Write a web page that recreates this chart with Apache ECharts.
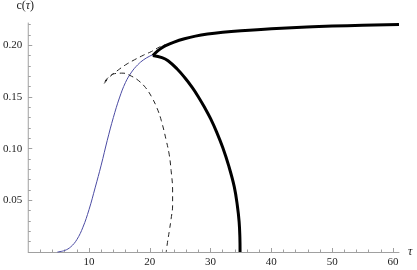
<!DOCTYPE html>
<html>
<head>
<meta charset="utf-8">
<script src="https://cdn.jsdelivr.net/npm/echarts@6/dist/echarts.min.js"></script>
<style>html,body{margin:0;padding:0;background:#fff}#c{width:417px;height:270px}</style>
</head>
<body>
<div id="c"></div>
<script>
// ---- data (tau, c) ----
const blueCurve = [[4.8,0],[6,0.0015],[7,0.005],[8,0.012],[9,0.024],[10,0.041],[11,0.062],[12,0.084],[13,0.108],[14,0.130],[15,0.149],[16,0.164],[17,0.174],[18,0.181],[19,0.186],[20,0.1895],[20.6,0.191]];
const dashedUpper = [[12.5,0.163],[13.5,0.170],[14.8,0.176],[16,0.181],[17.5,0.186],[19,0.1905],[20.3,0.194],[21.5,0.198],[22.5,0.2005]];
const dashedArc = [[12.6,0.165],[13.2,0.169],[14.2,0.1725],[15.6,0.173],[17,0.170],[18.1,0.166],[19.3,0.159],[20.3,0.150],[21.2,0.139],[21.9,0.127],[22.7,0.108],[23.2,0.094],[23.5,0.079],[23.75,0.060],[23.75,0.045],[23.5,0.032],[23.2,0.020],[22.9,0.009],[22.7,0]];
const thickUpper = [[20.5,0.190],[21.3,0.1945],[22.0,0.1975],[22.7,0.1998],[24,0.203],[25.7,0.2062],[27.5,0.2088],[29.5,0.2108],[32,0.2125],[35,0.214],[40,0.216],[45,0.2175],[50,0.2185],[55,0.2193],[61,0.220]];
const thickLower = [[20.5,0.190],[22,0.188],[23,0.185],[24.5,0.177],[25.7,0.169],[27,0.159],[28,0.150],[29,0.140],[30,0.129],[31,0.116],[32,0.101],[33,0.083],[33.9,0.063],[34.4,0.045],[34.7,0.029],[34.82,0.014],[34.85,0]];
const xMajorTicks = [10,20,30,40,50,60];
const xMinorTicks = [2,4,6,8,12,14,16,18,22,24,26,28,32,34,36,38,42,44,46,48,52,54,56,58];
const yMajorTicks = [0.05,0.10,0.15,0.20];
const yMinorTicks = [0.01,0.02,0.03,0.04,0.06,0.07,0.08,0.09,0.11,0.12,0.13,0.14,0.16,0.17,0.18,0.19,0.21,0.22];
const xMin = 0, xMax = 61, yMin = 0, yMax = 0.2215;

const serif = '"Liberation Serif", "Times New Roman", serif';
const axisColor = '#a0a0a0';
const labelStyle = {fontFamily: serif, fontSize: 11, color: '#222'};

function lineSeries(data, style, smooth) {
  return {type: 'line', data: data, showSymbol: false, symbol: 'none', smooth: smooth, clip: false, lineStyle: style};
}

const chart = echarts.init(document.getElementById('c'), null, {renderer: 'canvas'});
chart.setOption({
  animation: false,
  grid: {left: 26, right: 18, top: 23, bottom: 18, containLabel: false},
  xAxis: [
    {type: 'value', min: xMin, max: xMax, position: 'bottom',
     axisLine: {show: true, onZero: false, lineStyle: {color: axisColor, width: 1}},
     axisTick: {show: true, inside: true, length: 4, customValues: xMajorTicks, lineStyle: {color: axisColor}},
     axisLabel: Object.assign({show: true, margin: 5, customValues: xMajorTicks, formatter: v => String(v)}, labelStyle),
     splitLine: {show: false},
     name: 'τ', nameLocation: 'end', nameGap: 9,
     nameTextStyle: {fontFamily: serif, fontSize: 12, fontStyle: 'italic', color: '#222'}},
    {type: 'value', min: xMin, max: xMax, position: 'bottom',
     axisLine: {show: false}, axisLabel: {show: false}, splitLine: {show: false},
     axisTick: {show: true, inside: true, length: 2.5, customValues: xMinorTicks, lineStyle: {color: axisColor}}}
  ],
  yAxis: [
    {type: 'value', min: yMin, max: yMax, position: 'left',
     axisLine: {show: true, onZero: false, lineStyle: {color: axisColor, width: 1}},
     axisTick: {show: true, inside: true, length: 4, customValues: yMajorTicks, lineStyle: {color: axisColor}},
     axisLabel: Object.assign({show: true, margin: 6, customValues: yMajorTicks, formatter: v => v.toFixed(2)}, labelStyle),
     splitLine: {show: false},
     name: 'c({i|τ})', nameLocation: 'end', nameGap: 11,
     nameTextStyle: {fontFamily: serif, fontSize: 12, color: '#222', align: 'center', padding: [0, 6, 0, 0],
       rich: {i: {fontFamily: serif, fontSize: 12, fontStyle: 'italic', color: '#222'}}}},
    {type: 'value', min: yMin, max: yMax, position: 'left',
     axisLine: {show: false}, axisLabel: {show: false}, splitLine: {show: false},
     axisTick: {show: true, inside: true, length: 2.5, customValues: yMinorTicks, lineStyle: {color: axisColor}}}
  ],
  series: [
    lineSeries(blueCurve, {color: '#4b4ba3', width: 1}, 0.4),
    lineSeries(dashedUpper, {color: '#222', width: 1, type: [5, 4]}, 0.4),
    lineSeries(dashedArc, {color: '#222', width: 1, type: [5, 4]}, 0.4),
    lineSeries(thickUpper, {color: '#000', width: 3, cap: 'butt'}, 0.4),
    lineSeries(thickLower, {color: '#000', width: 3, cap: 'butt'}, 0.4)
  ]
});
</script>
</body>
</html>
